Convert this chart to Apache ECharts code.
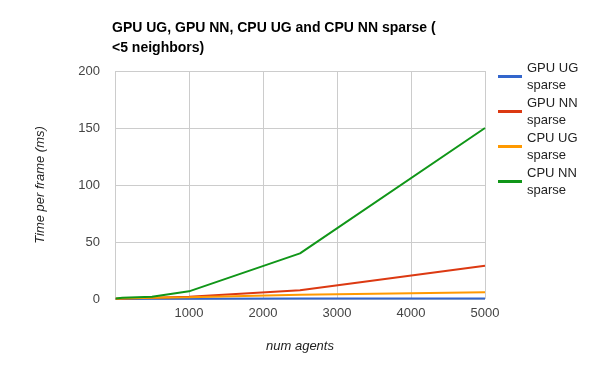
<!DOCTYPE html>
<html><head><meta charset="utf-8">
<script src="https://cdn.jsdelivr.net/npm/echarts@6/dist/echarts.min.js"></script>
<style>html,body{margin:0;padding:0;background:#fff}#c{width:600px;height:371px}</style>
</head><body><div id="c"></div>
<script>
const xValues = [10, 100, 500, 1000, 2500, 5000];
const gpuUG = [0.1, 0.1, 0.2, 0.3, 0.4, 0.5];
const gpuNN = [0.3, 0.5, 1.0, 2.0, 7.6, 29.2];
const cpuUG = [0.3, 0.5, 1.0, 1.5, 3.8, 5.9];
const cpuNN = [0.5, 1.0, 2.0, 6.7, 40, 150];
const seriesNames = ['GPU UG sparse', 'GPU NN sparse', 'CPU UG sparse', 'CPU NN sparse'];
const seriesColors = ['#3366cc', '#dc3912', '#ff9900', '#109618'];
const yTicks = [0, 50, 100, 150, 200];
const xTicks = [1000, 2000, 3000, 4000, 5000];
const titleText = 'GPU UG, GPU NN, CPU UG and CPU NN sparse (\n<5 neighbors)';

const allData = [gpuUG, gpuNN, cpuUG, cpuNN];
const chart = echarts.init(document.getElementById('c'));
chart.setOption({
  animation: false,
  title: {
    text: titleText, left: 112, top: 18, padding: 0,
    textStyle: {fontFamily: 'Arial, Liberation Sans', fontSize: 14, fontWeight: 'bold', color: '#000', lineHeight: 20}
  },
  grid: {left: 115, right: 115, top: 71, bottom: 72},
  legend: {
    orient: 'vertical', left: 498, top: 51, padding: 0, itemWidth: 24, itemHeight: 3, itemGap: -16,
    icon: 'rect',
    formatter: n => n.replace(' sparse', '\nsparse'),
    textStyle: {fontFamily: 'Arial, Liberation Sans', fontSize: 13, color: '#222', lineHeight: 17, padding: [17, 0, 0, 0]},
    data: seriesNames
  },
  xAxis: {
    type: 'value', min: 0, max: 5000, interval: 1000,
    name: 'num agents', nameLocation: 'middle', nameGap: 41,
    nameTextStyle: {fontFamily: 'Arial, Liberation Sans', fontSize: 13, fontStyle: 'italic', color: '#222'},
    axisLine: {show: false}, axisTick: {show: false},
    axisLabel: {color: '#444', fontSize: 13, fontFamily: 'Arial, Liberation Sans', margin: 8,
      formatter: v => xTicks.includes(v) ? String(v) : ''},
    splitLine: {lineStyle: {color: '#cccccc', width: 1}}
  },
  yAxis: {
    type: 'value', min: yTicks[0], max: yTicks[yTicks.length - 1], interval: 50,
    name: 'Time per frame (ms)', nameLocation: 'middle', nameGap: 68, nameRotate: 90,
    nameTextStyle: {fontFamily: 'Arial, Liberation Sans', fontSize: 13, fontStyle: 'italic', color: '#222'},
    axisLine: {show: false}, axisTick: {show: false},
    axisLabel: {color: '#444', fontSize: 13, fontFamily: 'Arial, Liberation Sans', margin: 15},
    splitLine: {lineStyle: {color: '#cccccc', width: 1}}
  },
  series: seriesNames.map((name, i) => ({
    name, type: 'line', showSymbol: false, symbol: 'none',
    data: xValues.map((x, j) => [x, allData[i][j]]),
    lineStyle: {color: seriesColors[i], width: 2},
    itemStyle: {color: seriesColors[i]}
  }))
});
</script></body></html>
